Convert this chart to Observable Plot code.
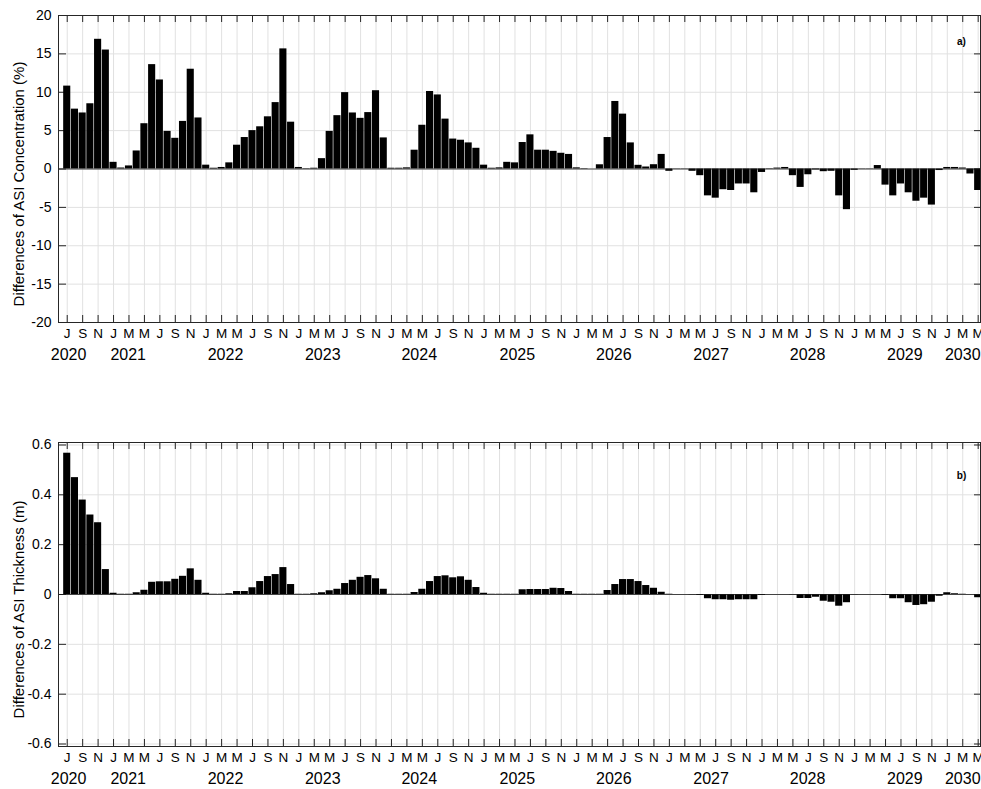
<!DOCTYPE html>
<html>
<head>
<meta charset="utf-8">
<script src="https://cdn.jsdelivr.net/npm/d3@7"></script>
<script src="https://cdn.jsdelivr.net/npm/@observablehq/plot@0.6"></script>
<style>
  html, body { margin: 0; padding: 0; background: #fff; }
  #chart svg { display: block; }
</style>
</head>
<body>
<div id="chart"></div>
<script>
// ---- data (monthly, starting July 2020) ----
const startYear = 2020;
const startMonth = 7;

const concentration = [
  10.8, 7.8, 7.3, 8.5, 16.9, 15.5,
  0.87, 0.13, 0.4, 2.35, 5.9, 13.6, 11.6, 4.9, 4.0, 6.2, 13.0, 6.65,
  0.5, 0.1, 0.2, 0.8, 3.1, 4.1, 5.0, 5.5, 6.8, 8.65, 15.65, 6.1,
  0.2, 0.05, 0.1, 1.35, 4.9, 6.95, 9.95, 7.3, 6.6, 7.35, 10.2, 4.05,
  0.1, 0.1, 0.15, 2.45, 5.7, 10.1, 9.65, 6.5, 3.9, 3.75, 3.4, 2.7,
  0.5, 0.1, 0.15, 0.87, 0.8, 3.45, 4.45, 2.45, 2.45, 2.3, 2.05, 1.9,
  0.15, 0.05, 0.0, 0.55, 4.1, 8.8, 7.15, 3.4, 0.48, 0.26, 0.56, 1.9,
  -0.3, -0.03, -0.03, -0.3, -0.87, -3.5, -3.8, -2.7, -2.8, -1.95, -1.95, -3.1,
  -0.45, -0.05, 0.12, 0.2, -0.87, -2.4, -0.75, -0.12, -0.35, -0.3, -3.5, -5.3,
  -0.17, -0.03, -0.03, 0.45, -2.1, -3.5, -1.95, -3.1, -4.2, -3.8, -4.7, -0.2,
  0.2, 0.2, 0.13, -0.65, -2.8
];

const thickness = [
  0.567, 0.469, 0.379, 0.319, 0.288, 0.1,
  0.005, 0.001, 0.001, 0.007, 0.017, 0.049, 0.051, 0.051, 0.061, 0.073, 0.103, 0.057,
  0.005, 0.001, 0.001, 0.003, 0.012, 0.012, 0.027, 0.052, 0.072, 0.08, 0.108, 0.04,
  0.001, 0.001, 0.003, 0.007, 0.015, 0.021, 0.044, 0.057, 0.069, 0.076, 0.063, 0.021,
  0.001, 0.001, 0.001, 0.008, 0.021, 0.052, 0.072, 0.075, 0.067, 0.071, 0.057, 0.028,
  0.005, 0.001, 0.001, 0.001, 0.001, 0.019, 0.02, 0.02, 0.02, 0.025, 0.024, 0.012,
  0.001, 0.001, 0.001, 0.001, 0.016, 0.04, 0.06, 0.06, 0.052, 0.036, 0.025, 0.009,
  0.001, 0, 0, -0.001, -0.004, -0.017, -0.021, -0.021, -0.023, -0.021, -0.021, -0.021,
  -0.004, 0, 0, 0, -0.001, -0.016, -0.016, -0.011, -0.027, -0.031, -0.047, -0.033,
  -0.001, 0, 0, 0, -0.004, -0.017, -0.017, -0.033, -0.044, -0.041, -0.031, -0.007,
  0.007, 0.003, 0.001, 0, -0.013
];

const yearLabels = ["2020", "2021", "2022", "2023", "2024", "2025", "2026", "2027", "2028", "2029", "2030"];
// month-index position (0 = Jul 2020) where each year label sits
const yearLabelAt = [0.17, 7.9, 20.5, 33.1, 45.6, 58.3, 70.8, 83.4, 95.9, 108.5, 116.0];

const concTicks = [-20, -15, -10, -5, 0, 5, 10, 15, 20];
const thickTicks = [-0.6, -0.4, -0.2, 0, 0.2, 0.4, 0.6];

// ---- derived ----
const monthIdx = d3.range(concentration.length);
const monthTicks = monthIdx.filter(i => i % 2 === 0);
const fmtMon = d3.utcFormat("%b");
const monthLetter = i => fmtMon(new Date(Date.UTC(startYear, startMonth - 1 + i, 1)))[0];

const FONT = "'Liberation Sans', Arial, Helvetica, sans-serif";

function panel({values, yDomain, yTicks, ylabel, tag, height, marginTop, marginBottom, tagDy}) {
  const W = 981, mL = 58, mR = 1;
  const plotH = height - marginTop - marginBottom;
  const plotW = W - mL - mR;
  const rows = values.map((v, i) => ({i, v}));
  return Plot.plot({
    width: W, height,
    marginLeft: mL, marginRight: mR, marginTop, marginBottom,
    style: {fontFamily: FONT, fontSize: "13.5px", color: "#000", background: "#fff", overflow: "visible"},
    x: {type: "linear", domain: [-1.13, 118.3], axis: null},
    y: {type: "linear", domain: yDomain, axis: null},
    marks: [
      Plot.ruleX(monthTicks, {x: d => d, stroke: "#e1e1e1", strokeWidth: 1}),
      Plot.ruleY(yTicks, {y: d => d, stroke: "#e1e1e1", strokeWidth: 1}),
      Plot.tickY(yTicks, {y: d => d, insetRight: plotW - 8, stroke: "#262626"}),
      Plot.tickY(yTicks, {y: d => d, insetLeft: plotW - 6, stroke: "#262626"}),
      Plot.tickX(monthTicks, {x: d => d, insetTop: plotH - 7, stroke: "#262626"}),
      Plot.tickX(monthTicks, {x: d => d, insetBottom: plotH - 7, stroke: "#262626"}),
      Plot.rectY(rows, {x1: d => d.i - 0.46, x2: d => d.i + 0.46, y: "v", fill: "#000", clip: true}),
      Plot.ruleY([0], {stroke: "#1a1a1a", strokeWidth: 0.8}),
      Plot.frame({stroke: "#262626", strokeWidth: 1}),
      Plot.text(yTicks, {y: d => d, text: d => String(d), frameAnchor: "left", textAnchor: "end", dx: -7, fontSize: 14}),
      Plot.text(monthTicks, {x: d => d, text: monthLetter, frameAnchor: "bottom", lineAnchor: "middle", dy: 11, fontSize: 13.5}),
      Plot.text(yearLabels, {x: (d, i) => yearLabelAt[i], text: d => d, frameAnchor: "bottom", lineAnchor: "middle", dy: 32, fontSize: 16}),
      Plot.text([ylabel], {text: d => d, frameAnchor: "left", rotate: -90, textAnchor: "middle", lineAnchor: "middle", dx: -39, dy: 15, fontSize: 15}),
      Plot.text([tag], {text: d => d, frameAnchor: "top-right", textAnchor: "middle", lineAnchor: "middle", dx: -19, dy: tagDy, fontSize: 10, fontWeight: "bold"})
    ]
  });
}

const chart = document.getElementById("chart");
chart.appendChild(panel({
  values: concentration, yDomain: [-20, 20], yTicks: concTicks,
  ylabel: "Differences of ASI Concentration (%)", tag: "a)",
  height: 420, marginTop: 15, marginBottom: 98, tagDy: 26.5
}));
chart.appendChild(panel({
  values: thickness, yDomain: [-0.61, 0.61], yTicks: thickTicks,
  ylabel: "Differences of ASI Thickness (m)", tag: "b)",
  height: 369, marginTop: 22, marginBottom: 43, tagDy: 33
}));
</script>
</body>
</html>
